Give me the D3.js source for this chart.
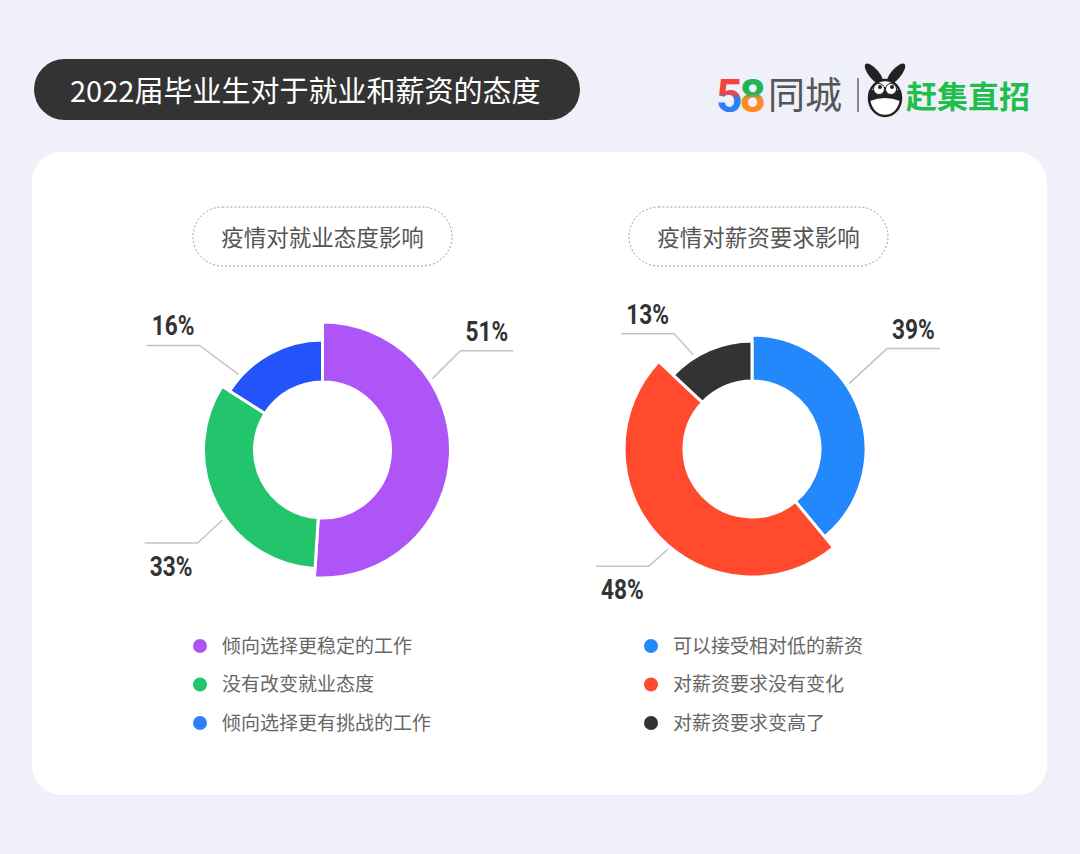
<!DOCTYPE html>
<html>
<head>
<meta charset="utf-8">
<script src="https://cdn.jsdelivr.net/npm/d3@7"></script>
<style>
  html, body { margin: 0; padding: 0; background: #f0f0fa; }
  svg { display: block; font-family: "Noto Sans CJK SC", "Noto Sans", sans-serif; }
</style>
</head>
<body>
<svg id="chart" width="1080" height="854"></svg>
<script>
'use strict';

// data
let title = '2022届毕业生对于就业和薪资的态度';
let leftTitle = '疫情对就业态度影响';
let leftCategories = ['倾向选择更稳定的工作', '没有改变就业态度', '倾向选择更有挑战的工作'];
let leftValues = [51, 33, 16];
let rightTitle = '疫情对薪资要求影响';
let rightCategories = ['可以接受相对低的薪资', '对薪资要求没有变化', '对薪资要求变高了'];
let rightValues = [39, 48, 13];

// styles / layout
let leftColors = ['#ad55f7', '#22c46c', '#2452fb'];
let leftLegendColors = ['#ad55f7', '#22c46c', '#2d80f6'];
let rightColors = ['#2288fb', '#ff4a2e', '#333333'];
let leftOuter = [128, 119, 110];
let rightOuter = [114, 128, 108];
// leader: angle on ring (deg, clockwise from top), diagonal leg dx/dy
let leftLeaders = [[57, 28, 28], [235, 25, 23], [312, 39, 29]];
let rightLeaders = [[56, 38, 35], [220, 19, 17], [328, 19, 21]];

let svg = d3.select('#chart');

svg.append('rect')
  .attr('width', 1080).attr('height', 854)
  .style('fill', '#f0f0fa');

// header pill
svg.append('rect')
  .attr('x', 34).attr('y', 59)
  .attr('width', 546).attr('height', 61)
  .attr('rx', 30.5)
  .style('fill', '#333333');
svg.append('text')
  .attr('x', 70).attr('y', 102)
  .style('font-size', '29px')
  .style('fill', '#ffffff')
  .text(title);

// logo
{
  let defs = svg.append('defs');
  let g5 = defs.append('linearGradient').attr('id', 'g5')
    .attr('x1', 0).attr('y1', 0).attr('x2', 0).attr('y2', 1);
  g5.append('stop').attr('offset', '45%').attr('stop-color', '#f2453d');
  g5.append('stop').attr('offset', '55%').attr('stop-color', '#2d7ff9');
  let g8 = defs.append('linearGradient').attr('id', 'g8')
    .attr('x1', 0).attr('y1', 0).attr('x2', 0).attr('y2', 1);
  g8.append('stop').attr('offset', '45%').attr('stop-color', '#21b35a');
  g8.append('stop').attr('offset', '55%').attr('stop-color', '#ff8a1f');

  let logo = svg.append('g').classed('logo', true);
  logo.append('text')
    .attr('x', 716).attr('y', 112)
    .style('font-family', 'Roboto, sans-serif')
    .style('font-weight', 700)
    .style('font-size', '46px')
    .style('letter-spacing', '-3px')
    .html('<tspan fill="url(#g5)">5</tspan><tspan fill="url(#g8)">8</tspan>');
  logo.append('text')
    .attr('x', 768).attr('y', 109)
    .style('font-size', '37px')
    .style('fill', '#555555')
    .text('同城');
  logo.append('line')
    .attr('x1', 858).attr('x2', 858)
    .attr('y1', 78).attr('y2', 112)
    .style('stroke', '#666').style('stroke-width', 1.5);
  // mascot
  let m = logo.append('g').attr('transform', 'translate(885,93)');
  m.append('ellipse').attr('cx', -11).attr('cy', -19).attr('rx', 5).attr('ry', 13)
    .attr('transform', 'rotate(-40,-11,-19)').style('fill', '#222');
  m.append('ellipse').attr('cx', 11).attr('cy', -19).attr('rx', 5).attr('ry', 13)
    .attr('transform', 'rotate(40,11,-19)').style('fill', '#222');
  m.append('ellipse').attr('cx', 0).attr('cy', 5).attr('rx', 16).attr('ry', 18)
    .style('fill', '#fff').style('stroke', '#222').style('stroke-width', 2.5);
  m.append('path').attr('d', 'M-15,-2 Q0,-10 15,-2 L15,8 Q0,2 -15,8 Z')
    .style('fill', '#222');
  m.append('circle').attr('cx', -6).attr('cy', -4).attr('r', 5.5).style('fill', '#fff').style('stroke', '#222');
  m.append('circle').attr('cx', 6).attr('cy', -4).attr('r', 5.5).style('fill', '#fff').style('stroke', '#222');
  m.append('circle').attr('cx', -5).attr('cy', -6).attr('r', 2).style('fill', '#222');
  m.append('circle').attr('cx', 7).attr('cy', -6).attr('r', 2).style('fill', '#222');
  logo.append('text')
    .attr('x', 906).attr('y', 108)
    .style('font-size', '31px')
    .style('font-weight', 700)
    .style('fill', '#1fbf4c')
    .text('赶集直招');
}

// card
svg.append('rect')
  .attr('x', 32).attr('y', 152)
  .attr('width', 1015).attr('height', 643)
  .attr('rx', 30)
  .style('fill', '#ffffff');

let drawDonut = (cfg) => {
  let g = svg.append('g').classed('donut', true);
  let cx = cfg.cx;
  let cy = cfg.cy;

  // subtitle pill
  g.append('rect')
    .attr('x', cfg.pillX - 129.5).attr('y', 207)
    .attr('width', 259).attr('height', 59)
    .attr('rx', 29.5)
    .style('fill', 'none')
    .style('stroke', '#9a9a9a')
    .style('stroke-width', 1)
    .style('stroke-dasharray', '2,2');
  g.append('text')
    .attr('x', cfg.pillX).attr('y', 246)
    .style('text-anchor', 'middle')
    .style('font-size', '22.5px')
    .style('fill', '#555555')
    .text(cfg.title);

  let pie = d3.pie().sort(null).value(d => d)(cfg.values);
  let ring = g.append('g').attr('transform', `translate(${cx},${cy})`);
  ring.selectAll('path.slice')
    .data(pie)
    .enter()
    .append('path')
    .classed('slice', true)
    .attr('d', (d, i) => d3.arc().innerRadius(68).outerRadius(cfg.outer[i])(d))
    .style('fill', (d, i) => cfg.colors[i])
    .style('stroke', '#ffffff')
    .style('stroke-width', 3)
    .style('stroke-linejoin', 'round');

  // leaders + labels
  pie.forEach((d, i) => {
    let [deg, ldx, ldy] = cfg.leaders[i];
    let a = deg * Math.PI / 180;
    let r = cfg.outer[i] + 3;
    let sx = Math.sin(a);
    let sy = -Math.cos(a);
    let x0 = cx + r * sx;
    let y0 = cy + r * sy;
    let dirX = sx >= 0 ? 1 : -1;
    let dirY = sy >= 0 ? 1 : -1;
    let x1 = x0 + dirX * ldx;
    let y1 = y0 + dirY * ldy;
    let x2 = x1 + dirX * 53;
    g.append('polyline')
      .attr('points', `${x0},${y0} ${x1},${y1} ${x2},${y1}`)
      .style('fill', 'none')
      .style('stroke', '#c4c4c4')
      .style('stroke-width', 1.5);
    let tx = (x1 + x2) / 2;
    let ty = dirY < 0 ? y1 - 10 : y1 + 33;
    g.append('text')
      .attr('transform', `translate(${tx},${ty}) scale(0.84,1)`)
      .style('text-anchor', 'middle')
      .style('font-family', 'Roboto, sans-serif')
      .style('font-weight', 700)
      .style('font-size', '27px')
      .style('fill', '#333333')
      .text(`${d.data}%`);
  });

  // legend
  let legend = g.append('g').classed('legend', true);
  cfg.categories.forEach((c, i) => {
    let y = 646 + i * 38.5;
    legend.append('circle')
      .attr('cx', cfg.legendX).attr('cy', y).attr('r', 7)
      .style('fill', cfg.legendColors[i]);
    legend.append('text')
      .attr('x', cfg.legendX + 22).attr('y', y + 6.5)
      .style('font-size', '19px')
      .style('fill', '#666666')
      .text(c);
  });
};

drawDonut({
  cx: 322.5, cy: 450, pillX: 322.5, legendX: 200,
  title: leftTitle, categories: leftCategories, values: leftValues,
  colors: leftColors, legendColors: leftLegendColors,
  outer: leftOuter, leaders: leftLeaders,
});
drawDonut({
  cx: 752, cy: 449, pillX: 758.5, legendX: 651,
  title: rightTitle, categories: rightCategories, values: rightValues,
  colors: rightColors, legendColors: rightColors,
  outer: rightOuter, leaders: rightLeaders,
});
</script>
</body>
</html>
